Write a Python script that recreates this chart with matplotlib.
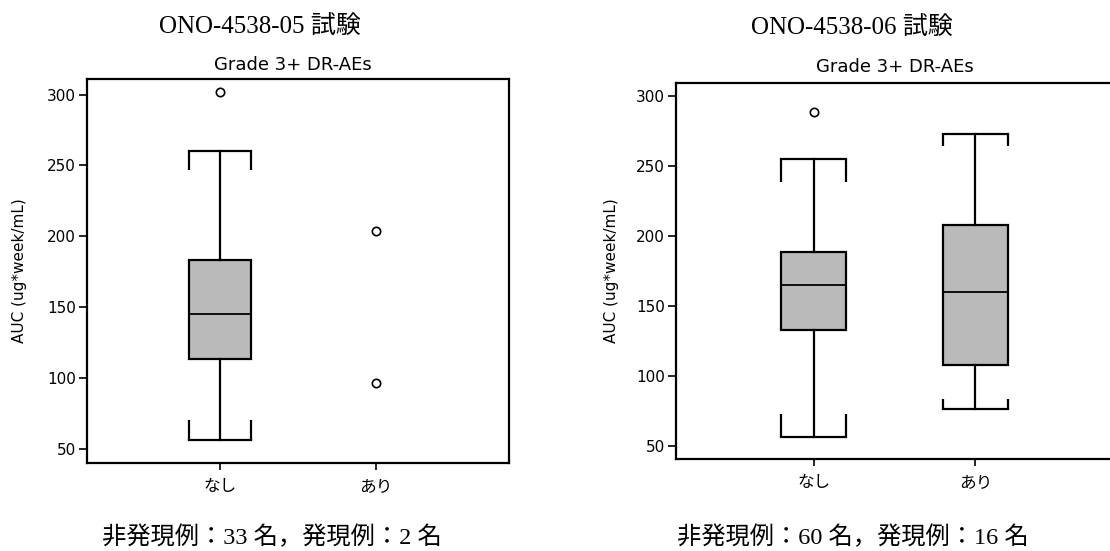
import matplotlib
matplotlib.use("Agg")
import matplotlib.pyplot as plt

groups = ["なし", "あり"]

# ONO-4538-05: box for なし, only two points for あり
s05_nashi = dict(whislo=56.5, q1=113.3, med=145.0, q3=183.0, whishi=260.5)
s05_nashi_capmarks = [70.0, 247.0]
s05_nashi_fliers = [301.5]
s05_ari_points = [203.5, 96.5]

# ONO-4538-06: boxes for both groups
s06_nashi = dict(whislo=56.4, q1=132.8, med=165.0, q3=188.6, whishi=255.4)
s06_nashi_capmarks = [72.6, 239.0]
s06_nashi_fliers = [288.8]
s06_ari = dict(whislo=76.0, q1=108.0, med=159.8, q3=208.0, whishi=272.8)
s06_ari_capmarks = [83.4, 264.7]
s06_ari_fliers = []

titles = ["ONO-4538-05 試験", "ONO-4538-06 試験"]
captions = ["非発現例：33 名，発現例：2 名", "非発現例：60 名，発現例：16 名"]
subtitle = "Grade 3+ DR-AEs"
ylabel = "AUC (ug*week/mL)"

W, H = 1110, 551
sans = ["DejaVu Sans", "Noto Sans CJK JP"]
serif = ["Liberation Serif", "Noto Sans CJK JP"]
box_color = "#bababa"

fig = plt.figure(figsize=(W / 100, H / 100), dpi=100)


def draw_box(ax, pos, stats, fliers, capmarks):
    st = dict(stats)
    st["fliers"] = fliers
    ax.bxp([st], positions=[pos], widths=0.4, capwidths=0.4, patch_artist=True,
           manage_ticks=False,
           boxprops=dict(facecolor=box_color, edgecolor="black", linewidth=1.6),
           medianprops=dict(color="black", linewidth=1.3),
           whiskerprops=dict(color="black", linewidth=1.6),
           capprops=dict(color="black", linewidth=1.6),
           flierprops=dict(marker="o", markerfacecolor="white", markeredgecolor="black",
                           markersize=6, markeredgewidth=1.2))
    # bracket ends of the caps
    ax.vlines([pos - 0.2, pos + 0.2], st["whislo"], capmarks[0], color="black", linewidth=1.6)
    ax.vlines([pos - 0.2, pos + 0.2], st["whishi"], capmarks[1], color="black", linewidth=1.6)


def style_axes(ax, ylim, ylabelpad):
    ax.set_xlim(0.15, 2.85)
    ax.set_ylim(*ylim)
    ax.set_xticks([1, 2])
    ax.set_xticklabels(groups, family=sans, fontsize=12)
    ax.set_yticks([50, 100, 150, 200, 250, 300])
    ax.tick_params(axis="y", length=6, width=1.2, pad=2, labelsize=11)
    ax.tick_params(axis="x", length=5, width=1.2, pad=5)
    ax.set_ylabel(ylabel, fontsize=11, labelpad=ylabelpad)
    for sp in ax.spines.values():
        sp.set_linewidth(1.6)


# left panel
ax1 = fig.add_axes([87 / W, 1 - 463 / H, 422 / W, 384 / H])
draw_box(ax1, 1, s05_nashi, s05_nashi_fliers, s05_nashi_capmarks)
ax1.plot([2] * len(s05_ari_points), s05_ari_points, "o", mfc="white", mec="black",
         ms=6, mew=1.2)
style_axes(ax1, (40, 311), 14)

# right panel (runs off the right edge like the original)
ax2 = fig.add_axes([676 / W, 1 - 459 / H, 437 / W, 376 / H])
draw_box(ax2, 1, s06_nashi, s06_nashi_fliers, s06_nashi_capmarks)
draw_box(ax2, 2, s06_ari, s06_ari_fliers, s06_ari_capmarks)
style_axes(ax2, (40.5, 309.5), 12)

fig.text(293 / W, 1 - 65 / H, subtitle, ha="center", va="center", fontsize=13, family=sans)
fig.text(895 / W, 1 - 67 / H, subtitle, ha="center", va="center", fontsize=13, family=sans)

fig.text(260 / W, 1 - 27 / H, titles[0], ha="center", va="center", fontsize=18, family=serif)
fig.text(852 / W, 1 - 28 / H, titles[1], ha="center", va="center", fontsize=18, family=serif)
fig.text(272 / W, 1 - 537 / H, captions[0], ha="center", va="center", fontsize=17.5, family=serif)
fig.text(853 / W, 1 - 537 / H, captions[1], ha="center", va="center", fontsize=17.5, family=serif)

fig.savefig("out.png", dpi=100)
